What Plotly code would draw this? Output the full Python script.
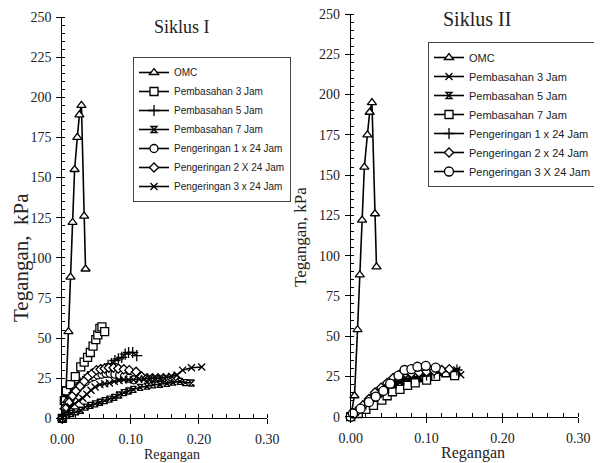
import plotly.graph_objects as go

# ---------------- Siklus I data ----------------
omc_x = [0, 0.005, 0.009, 0.012, 0.015, 0.018, 0.022, 0.025, 0.028, 0.032, 0.034]
omc_y = [0, 13, 54, 88, 122, 155, 175, 189, 195, 126, 93]

s1_p3_x = [0, 0.003, 0.006, 0.012, 0.019, 0.027, 0.032, 0.037, 0.041, 0.045, 0.049, 0.052, 0.055, 0.058, 0.062]
s1_p3_y = [0, 11, 17, 21, 26, 32, 35, 38, 41, 45, 49, 52, 56, 57, 54]

s1_p5_x = [0, 0.004, 0.008, 0.012, 0.017, 0.022, 0.027, 0.032, 0.037, 0.042, 0.047, 0.052, 0.057, 0.062,
           0.067, 0.072, 0.077, 0.082, 0.087, 0.092, 0.097, 0.103, 0.109]
s1_p5_y = [0, 6, 10, 13, 16, 19, 22, 24, 26, 27, 28, 29, 30, 31, 33, 34, 36, 37, 38, 40, 41, 41, 39]

s1_p7_x = [0, 0.007, 0.013, 0.02, 0.027, 0.034, 0.041, 0.048, 0.055, 0.062, 0.069, 0.076, 0.083, 0.09,
           0.097, 0.104, 0.114, 0.124, 0.133, 0.143, 0.153, 0.162, 0.172, 0.18, 0.189]
s1_p7_y = [0, 2, 3, 4, 5, 7, 8, 9, 10, 11, 12, 13, 14.5, 16, 17, 18, 19.3, 20, 20.8, 21.2, 21.8, 22.5, 23, 22.2, 22]

s1_k1_x = [0, 0.004, 0.008, 0.013, 0.018, 0.023, 0.028, 0.034, 0.040, 0.046, 0.052, 0.058, 0.064, 0.070,
           0.077, 0.084, 0.091, 0.098, 0.105]
s1_k1_y = [0, 6, 10, 13, 16, 19, 21, 23, 25, 26, 27, 27.5, 28, 28, 27.5, 27, 26, 25, 24]

s1_k2_x = [0, 0.005, 0.01, 0.015, 0.02, 0.026, 0.032, 0.038, 0.044, 0.05, 0.056, 0.062, 0.068, 0.075,
           0.082, 0.09, 0.098, 0.108, 0.116, 0.124, 0.132, 0.14, 0.148, 0.156, 0.164]
s1_k2_y = [0, 6, 10, 14, 17, 20, 23, 26, 28, 30, 30.5, 31, 31.5, 31.5, 31, 30.5, 30, 29, 26, 25, 25, 25, 25, 25, 25.5]

s1_k3_x = [0, 0.006, 0.012, 0.018, 0.024, 0.03, 0.036, 0.042, 0.048, 0.055, 0.062, 0.069, 0.076, 0.083,
           0.09, 0.097, 0.104, 0.112, 0.12, 0.128, 0.136, 0.144, 0.152, 0.16, 0.168, 0.176, 0.189, 0.204]
s1_k3_y = [0, 4, 7, 9, 11, 12.5, 15, 17.5, 19.5, 21, 21.5, 22, 23, 23.5, 24, 24, 24, 24.5, 24.5, 25, 25,
           25, 25.5, 26, 27, 30, 31.5, 32]

# ---------------- Siklus II data ----------------
s2_p3_x = [0, 0.01, 0.02, 0.03, 0.04, 0.05, 0.06, 0.07, 0.08, 0.09, 0.1, 0.11, 0.12, 0.13, 0.14, 0.145]
s2_p3_y = [0, 4, 8, 12, 15.5, 18.5, 21, 23, 24.5, 25, 26, 27, 28, 28.5, 29, 26]

s2_p5_x = [0, 0.01, 0.02, 0.03, 0.04, 0.05, 0.06, 0.07, 0.08, 0.09, 0.1, 0.11, 0.12, 0.13, 0.14]
s2_p5_y = [0, 3.5, 7.5, 11, 14.5, 17.5, 20, 22, 23.5, 24.5, 25.5, 26.5, 27.5, 28, 28]

s2_p7_x = [0, 0.01, 0.02, 0.03, 0.041, 0.048, 0.055, 0.065, 0.075, 0.085, 0.1, 0.112, 0.126, 0.137]
s2_p7_y = [0, 2, 4.5, 7, 10.3, 13, 15.5, 17, 19.5, 21, 22.7, 25, 27.3, 25.5]

s2_k1_x = [0, 0.01, 0.02, 0.03, 0.04, 0.05, 0.06, 0.07, 0.08, 0.09, 0.1, 0.11, 0.12, 0.13, 0.14]
s2_k1_y = [0, 4, 8, 12, 15, 18, 21, 23, 24, 25, 26, 27, 28, 28.5, 29]

s2_k2_x = [0, 0.008, 0.016, 0.024, 0.032, 0.04, 0.048, 0.056, 0.064, 0.072, 0.08, 0.09, 0.1, 0.11, 0.12, 0.13]
s2_k2_y = [0, 3, 7, 11, 15, 18, 21, 24, 26, 27, 27, 27.5, 28, 28.5, 29, 29.5]

s2_k3_x = [0, 0.003, 0.013, 0.024, 0.033, 0.043, 0.052, 0.063, 0.071, 0.08, 0.088, 0.099, 0.112]
s2_k3_y = [0, 2, 5, 9, 12.5, 16, 20.5, 25.5, 29, 29.5, 31, 31.6, 30.5]

fig = go.Figure()

def add(x, y, name, symbol, size, axis, legend, open_=False):
    marker = dict(symbol=symbol, size=size, color='white',
                  line=dict(color='black', width=1.3))
    if open_:
        marker = dict(symbol=symbol, size=size, color='black',
                      line=dict(color='black', width=1.3))
    fig.add_trace(go.Scatter(
        x=x, y=y, name=name, mode='lines+markers',
        line=dict(color='black', width=1.6), marker=marker,
        xaxis='x' if axis == 1 else 'x2', yaxis='y' if axis == 1 else 'y2',
        legend=legend, cliponaxis=False))

# Siklus I traces
add(omc_x, omc_y, 'OMC', 'triangle-up', 8, 1, 'legend')
add(s1_p3_x, s1_p3_y, 'Pembasahan 3 Jam', 'square', 8, 1, 'legend')
add(s1_p5_x, s1_p5_y, 'Pembasahan 5 Jam', 'cross-thin-open', 8, 1, 'legend', True)
add(s1_p7_x, s1_p7_y, 'Pembasahan 7 Jam', 'hourglass-open', 6, 1, 'legend', True)
add(s1_k1_x, s1_k1_y, 'Pengeringan 1 x 24 Jam', 'circle', 8, 1, 'legend')
add(s1_k2_x, s1_k2_y, 'Pengeringan 2 X 24 Jam', 'diamond', 7, 1, 'legend')
add(s1_k3_x, s1_k3_y, 'Pengeringan 3 x 24 Jam', 'x-thin-open', 7, 1, 'legend', True)

# Siklus II traces
add(omc_x, omc_y, 'OMC', 'triangle-up', 8, 2, 'legend2')
add(s2_p3_x, s2_p3_y, 'Pembasahan 3 Jam', 'x-thin-open', 7, 2, 'legend2', True)
add(s2_p5_x, s2_p5_y, 'Pembasahan 5 Jam', 'hourglass-open', 6, 2, 'legend2', True)
add(s2_p7_x, s2_p7_y, 'Pembasahan 7 Jam', 'square', 8, 2, 'legend2')
add(s2_k1_x, s2_k1_y, 'Pengeringan 1 x 24 Jam', 'cross-thin-open', 8, 2, 'legend2', True)
add(s2_k2_x, s2_k2_y, 'Pengeringan 2 x 24 Jam', 'diamond', 7, 2, 'legend2')
add(s2_k3_x, s2_k3_y, 'Pengeringan 3 X 24 Jam', 'circle', 9, 2, 'legend2')

serif = 'Liberation Serif, Times New Roman, serif'
tickfont = dict(family=serif, size=14, color='#222')

# page is rendered with an 8px body margin: figure is 594x455 placed at (8, 8)
W, H, OFF = 594, 455, 8

def px(xp):
    return (xp - OFF) / W

def py(yp):
    return 1 - (yp - OFF) / H

def xax(domain, anchor):
    return dict(domain=domain, anchor=anchor, range=[0, 0.3], dtick=0.1, tickformat='.2f',
                showgrid=False, zeroline=False, showline=True, linecolor='black', linewidth=1,
                ticks='outside', ticklen=5, tickcolor='black', tickfont=tickfont, automargin=False,
                ticklabelstandoff=3, ticklabeloverflow='allow',
                minor=dict(dtick=0.02, ticks='inside', ticklen=4, tickcolor='black'))

def yax(domain, anchor):
    return dict(domain=domain, anchor=anchor, range=[0, 250], dtick=25,
                showgrid=False, zeroline=False, showline=True, linecolor='black', linewidth=1,
                ticks='outside', ticklen=5, tickcolor='black', tickfont=tickfont, automargin=False,
                ticklabelstandoff=2, ticklabeloverflow='allow',
                minor=dict(dtick=5, ticks='inside', ticklen=3, tickcolor='black'))

legfont1 = dict(family='Liberation Sans, Arial, sans-serif', size=10, color='#222')
legfont2 = dict(family='Liberation Sans, Arial, sans-serif', size=11, color='#222')

def ann(text, x, y, size, angle=0):
    return dict(text=text, x=px(x), y=py(y), xref='paper', yref='paper', xanchor='center',
                yanchor='middle', showarrow=False, textangle=angle,
                font=dict(family=serif, size=size, color='#222'))

fig.update_layout(
    width=W, height=H, margin=dict(l=0, r=0, t=0, b=0, autoexpand=False),
    paper_bgcolor='white', plot_bgcolor='white', showlegend=True,
    xaxis=xax([px(62.3), px(267.3)], 'y'),
    yaxis=yax([py(418.3), py(17)], 'x'),
    xaxis2=xax([px(350.7), px(578.3)], 'y2'),
    yaxis2=yax([py(416.7), py(14)], 'x2'),
    legend=dict(x=px(133), y=py(57), xanchor='left', yanchor='top', bgcolor='white',
                bordercolor='#444', borderwidth=1, font=legfont1, tracegroupgap=0),
    legend2=dict(x=px(428), y=py(42), xanchor='left', yanchor='top', bgcolor='white',
                 bordercolor='#444', borderwidth=1, font=legfont2, tracegroupgap=0),
    annotations=[
        ann('Siklus I', 182, 27.5, 18),
        ann('Siklus II', 477, 18.5, 20),
        ann('Tegangan,  kPa', 21, 258, 21, -90),
        ann('Tegangan, kPa', 300, 237, 17, -90),
        ann('Regangan', 172, 454, 14),
        ann('Regangan', 473, 453, 16),
    ],
)

fig.write_html('out.html')
